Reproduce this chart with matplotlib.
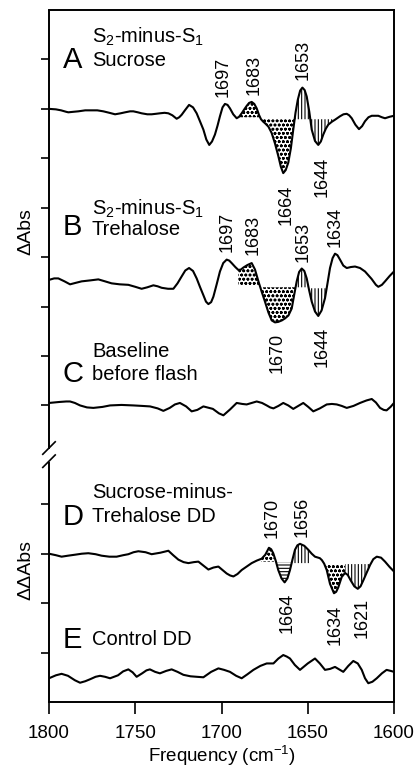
import numpy as np
import matplotlib
matplotlib.use('Agg')
import matplotlib.pyplot as plt

plt.rcParams['font.family'] = ['Liberation Sans', 'DejaVu Sans']
plt.rcParams['mathtext.fontset'] = 'custom'
plt.rcParams['mathtext.rm'] = 'Liberation Sans'
plt.rcParams['mathtext.it'] = 'Liberation Sans:italic'
plt.rcParams['hatch.linewidth'] = 0.8

# spectra (1 unit = one y tick step)
freq_a = [1800.0, 1796.0, 1793.0, 1790.0, 1788.8, 1786.0, 1783.0, 1779.0, 1775.3, 1772.0,
          1768.5, 1765.0, 1761.7, 1758.5, 1755.9, 1753.0, 1751.1, 1748.5, 1746.3, 1743.0,
          1740.5, 1738.0, 1735.7, 1733.0, 1730.8, 1728.5, 1726.0, 1724.5, 1723.1, 1721.0,
          1718.8, 1716.5, 1714.4, 1712.5, 1710.5, 1708.8, 1707.1, 1705.5, 1703.8, 1702.3,
          1700.9, 1699.4, 1698.0, 1696.5, 1695.1, 1693.2, 1691.2, 1689.8, 1688.3, 1686.8,
          1685.4, 1684.0, 1682.5, 1681.0, 1679.6, 1678.3, 1677.1, 1675.8, 1674.8, 1672.8,
          1670.9, 1669.0, 1667.1, 1665.6, 1664.2, 1662.8, 1661.3, 1659.8, 1658.4, 1657.1,
          1655.8, 1654.4, 1653.1, 1651.8, 1650.6, 1649.1, 1647.7, 1645.8, 1643.9, 1642.4,
          1641.0, 1639.5, 1638.1, 1636.0, 1634.2, 1631.3, 1629.3, 1627.4, 1626.0, 1624.5,
          1622.4, 1620.3, 1618.5, 1616.8, 1614.8, 1612.9, 1609.1, 1607.0, 1605.2, 1602.5,
          1600.0]
dabs_a = [0.00, -0.01, -0.03, -0.06, -0.07, -0.06, -0.05, -0.03, -0.03, -0.03,
          -0.05, -0.08, -0.11, -0.09, -0.07, -0.05, -0.05, -0.07, -0.09, -0.11,
          -0.11, -0.10, -0.09, -0.08, -0.09, -0.13, -0.20, -0.17, -0.12, -0.02,
          0.08, 0.03, -0.09, -0.25, -0.42, -0.62, -0.73, -0.66, -0.52, -0.34,
          -0.15, 0.03, 0.10, 0.08, 0.01, -0.11, -0.19, -0.16, -0.09, -0.01,
          0.06, 0.12, 0.14, 0.10, 0.01, -0.12, -0.21, -0.26, -0.29, -0.36,
          -0.49, -0.70, -0.95, -1.17, -1.30, -1.24, -1.09, -0.80, -0.42, -0.08,
          0.18, 0.37, 0.43, 0.38, 0.25, -0.06, -0.42, -0.65, -0.73, -0.66,
          -0.52, -0.40, -0.32, -0.26, -0.22, -0.15, -0.11, -0.10, -0.13, -0.19,
          -0.32, -0.41, -0.35, -0.25, -0.17, -0.14, -0.14, -0.17, -0.19, -0.16,
          -0.14]

freq_b = [1800.0, 1797.0, 1794.6, 1791.0, 1787.8, 1784.5, 1781.1, 1776.0, 1771.4, 1767.5,
          1763.7, 1759.0, 1754.0, 1750.0, 1746.3, 1743.0, 1739.5, 1737.0, 1734.7, 1731.0,
          1727.9, 1725.5, 1723.1, 1721.0, 1718.8, 1716.5, 1714.4, 1712.5, 1710.5, 1709.0,
          1707.6, 1706.0, 1704.7, 1702.8, 1700.9, 1699.0, 1697.0, 1695.5, 1694.1, 1692.0,
          1690.2, 1688.7, 1687.3, 1685.0, 1682.5, 1680.6, 1678.6, 1676.7, 1674.8, 1672.8,
          1670.9, 1669.0, 1667.1, 1665.0, 1663.2, 1661.2, 1659.3, 1657.8, 1656.4, 1655.0,
          1653.5, 1652.0, 1650.6, 1649.2, 1647.7, 1645.8, 1643.9, 1642.0, 1640.0, 1638.5,
          1637.1, 1635.6, 1634.2, 1632.8, 1631.3, 1629.4, 1627.4, 1625.0, 1622.6, 1619.7,
          1616.8, 1613.0, 1610.5, 1609.1, 1607.0, 1605.2, 1602.5, 1600.0]
dabs_b = [0.04, 0.07, 0.07, 0.01, -0.05, -0.02, 0.01, 0.03, 0.05, 0.01,
          -0.03, -0.05, -0.06, -0.10, -0.14, -0.11, -0.07, -0.09, -0.12, -0.14,
          -0.14, -0.03, 0.11, 0.23, 0.28, 0.22, 0.07, -0.10, -0.27, -0.40,
          -0.45, -0.41, -0.30, -0.05, 0.21, 0.38, 0.45, 0.43, 0.38, 0.30,
          0.24, 0.25, 0.29, 0.34, 0.38, 0.25, 0.01, -0.20, -0.40, -0.62,
          -0.78, -0.82, -0.81, -0.78, -0.74, -0.68, -0.54, -0.25, 0.01, 0.20,
          0.27, 0.22, 0.07, -0.17, -0.40, -0.60, -0.69, -0.58, -0.33, -0.02,
          0.28, 0.48, 0.57, 0.54, 0.45, 0.33, 0.28, 0.30, 0.31, 0.28,
          0.21, 0.06, -0.06, -0.10, -0.06, 0.01, 0.12, 0.21]

freq_c = [1800.0, 1794.0, 1790.0, 1787.8, 1785.0, 1782.0, 1778.0, 1774.3, 1769.0, 1764.6,
          1758.0, 1751.1, 1746.0, 1741.4, 1737.0, 1733.7, 1730.0, 1727.0, 1724.1, 1720.5,
          1717.3, 1714.0, 1710.5, 1705.0, 1701.5, 1698.9, 1695.0, 1691.2, 1688.0, 1685.4,
          1682.5, 1679.6, 1676.5, 1673.8, 1671.8, 1669.9, 1667.0, 1664.2, 1661.3, 1658.4,
          1655.5, 1652.6, 1649.7, 1646.8, 1643.0, 1639.0, 1636.0, 1633.2, 1630.3, 1627.4,
          1623.5, 1619.7, 1616.0, 1612.9, 1610.5, 1608.1, 1606.0, 1604.3, 1602.0, 1600.0]
dabs_c = [0.00, 0.02, 0.03, 0.03, 0.00, -0.05, -0.09, -0.10, -0.08, -0.05,
          -0.04, -0.05, -0.06, -0.07, -0.11, -0.16, -0.10, -0.03, 0.00, -0.07,
          -0.17, -0.14, -0.07, -0.12, -0.21, -0.25, -0.13, 0.00, -0.02, -0.03,
          0.00, 0.03, 0.00, -0.05, -0.09, -0.11, -0.06, 0.00, -0.05, -0.12,
          -0.06, 0.00, -0.08, -0.17, -0.11, -0.03, -0.02, -0.03, -0.06, -0.10,
          -0.06, 0.00, 0.05, 0.08, 0.01, -0.10, -0.14, -0.15, -0.08, 0.00]

freq_d = [1800.0, 1796.0, 1792.7, 1789.0, 1784.9, 1781.0, 1777.2, 1773.0, 1769.5, 1765.0,
          1760.8, 1757.0, 1754.0, 1751.0, 1748.2, 1744.0, 1740.5, 1735.5, 1730.8, 1728.0,
          1725.0, 1722.0, 1719.2, 1716.0, 1713.4, 1710.5, 1707.6, 1704.7, 1701.8, 1699.4,
          1697.0, 1695.0, 1693.1, 1690.7, 1688.3, 1685.4, 1682.5, 1679.6, 1676.7, 1674.6,
          1672.5, 1671.2, 1670.0, 1668.5, 1667.1, 1665.2, 1663.4, 1661.8, 1660.3, 1658.8,
          1657.4, 1656.0, 1654.5, 1652.0, 1649.7, 1647.7, 1645.8, 1643.0, 1641.8, 1640.5,
          1639.0, 1637.1, 1634.8, 1633.5, 1632.3, 1630.3, 1628.4, 1626.8, 1625.1, 1623.0,
          1621.0, 1619.4, 1617.8, 1615.8, 1613.9, 1612.0, 1610.0, 1607.5, 1605.2, 1602.5,
          1600.0]
dabs_d = [0.00, -0.03, -0.06, -0.04, -0.02, 0.00, 0.01, -0.01, -0.04, -0.06,
          -0.06, -0.03, -0.01, 0.03, 0.05, 0.03, -0.01, 0.02, 0.06, -0.03,
          -0.12, -0.17, -0.19, -0.17, -0.16, -0.24, -0.32, -0.28, -0.26, -0.33,
          -0.40, -0.44, -0.46, -0.41, -0.33, -0.26, -0.19, -0.14, -0.10, -0.02,
          0.12, 0.09, 0.01, -0.15, -0.33, -0.50, -0.58, -0.50, -0.33, -0.11,
          0.08, 0.17, 0.20, 0.16, 0.08, 0.00, -0.06, -0.09, -0.13, -0.20,
          -0.33, -0.61, -0.80, -0.77, -0.68, -0.47, -0.39, -0.43, -0.54, -0.66,
          -0.71, -0.66, -0.54, -0.38, -0.23, -0.11, -0.06, -0.08, -0.16, -0.27,
          -0.36]

freq_e = [1800.0, 1796.0, 1792.7, 1789.0, 1785.0, 1782.0, 1779.0, 1776.2, 1773.0, 1770.4,
          1767.5, 1764.6, 1760.0, 1757.0, 1754.0, 1751.5, 1749.2, 1746.0, 1743.5, 1741.5,
          1738.5, 1735.7, 1732.0, 1728.9, 1725.5, 1722.1, 1718.0, 1714.4, 1710.5, 1706.0,
          1701.8, 1698.5, 1695.1, 1691.5, 1688.3, 1685.0, 1681.5, 1677.5, 1673.8, 1669.9,
          1667.0, 1664.2, 1662.2, 1660.3, 1657.5, 1654.5, 1650.0, 1645.8, 1643.0, 1640.0,
          1637.0, 1634.2, 1631.8, 1629.4, 1626.5, 1623.6, 1621.0, 1618.7, 1616.8, 1614.9,
          1612.5, 1610.0, 1607.0, 1604.3, 1602.0, 1600.0]
dabs_e = [0.00, 0.06, 0.09, 0.05, -0.04, -0.09, -0.06, -0.02, 0.03, 0.05,
          0.03, 0.00, 0.06, 0.14, 0.18, 0.12, 0.03, 0.10, 0.16, 0.18,
          0.13, 0.10, 0.15, 0.18, 0.13, 0.07, 0.04, 0.03, 0.02, 0.13,
          0.20, 0.17, 0.13, 0.05, 0.00, 0.08, 0.17, 0.25, 0.30, 0.30,
          0.40, 0.47, 0.44, 0.40, 0.27, 0.17, 0.30, 0.40, 0.30, 0.17,
          0.19, 0.23, 0.18, 0.13, 0.25, 0.35, 0.30, 0.17, 0.00, -0.10,
          -0.07, 0.00, 0.10, 0.17, 0.15, 0.13]

traces = {'A': (freq_a, dabs_a), 'B': (freq_b, dabs_b), 'C': (freq_c, dabs_c),
          'D': (freq_d, dabs_d), 'E': (freq_e, dabs_e)}
offsets = {'A': 12.0, 'B': 8.5, 'C': 6.05, 'D': 3.0, 'E': 0.48}

# shaded bands: trace, low freq, high freq, reference level, hatch
fills = [
    ('A', 1677.6, 1690.5, -0.17, 'oooo'),
    ('A', 1657.5, 1677.1, -0.21, 'oooo'),
    ('A', 1648.6, 1657.5, -0.21, '|||||'),
    ('A', 1635.5, 1648.6, -0.21, '|||||'),
    ('B', 1677.9, 1690.2, -0.07, 'oooo'),
    ('B', 1656.9, 1676.6, -0.11, 'oooo'),
    ('B', 1649.5, 1656.9, -0.11, '|||||'),
    ('B', 1639.1, 1649.3, -0.13, '|||||'),
    ('D', 1669.5, 1677.0, -0.16, 'oooo'),
    ('D', 1659.1, 1668.8, -0.17, '-----'),
    ('D', 1648.5, 1659.1, -0.19, '|||||'),
    ('D', 1628.4, 1640.4, -0.21, 'oooo'),
    ('D', 1613.8, 1628.4, -0.21, '|||||'),
]

peak_labels = [
    ('1697', 1699.1, 12.25, 'bottom'), ('1683', 1681.2, 12.29, 'bottom'),
    ('1653', 1652.8, 12.59, 'bottom'), ('1664', 1662.6, 10.47, 'top'),
    ('1644', 1641.7, 11.03, 'top'),
    ('1697', 1696.8, 9.11, 'bottom'), ('1683', 1681.7, 9.05, 'bottom'),
    ('1653', 1652.8, 8.91, 'bottom'), ('1634', 1634.2, 9.21, 'bottom'),
    ('1670', 1667.8, 7.47, 'top'), ('1644', 1641.7, 7.59, 'top'),
    ('1670', 1670.7, 3.32, 'bottom'), ('1656', 1653.3, 3.34, 'bottom'),
    ('1664', 1662.0, 2.21, 'top'), ('1634', 1634.2, 1.96, 'top'),
    ('1621', 1618.6, 2.11, 'top'),
]

panel_letters = [('A', 12.83), ('B', 9.45), ('C', 6.48), ('D', 3.58), ('E', 1.09)]
panel_text = [('S$_2$-minus-S$_1$', 13.34), ('Sucrose', 12.87),
              ('S$_2$-minus-S$_1$', 9.86), ('Trehalose', 9.45),
              ('Baseline', 6.98), ('before flash', 6.52),
              ('Sucrose-minus-', 4.13), ('Trehalose DD', 3.64),
              ('Control DD', 1.15)]

fig = plt.figure(figsize=(4.2, 7.69), dpi=100)
ax = fig.add_axes([49 / 420, 67 / 769, 345 / 420, 692 / 769])

for key, (f, d) in traces.items():
    ax.plot(f, np.asarray(d) + offsets[key], color='black', lw=1.5,
            solid_joinstyle='round')

for key, lo, hi, level, hatch in fills:
    f, d = traces[key]
    f = np.asarray(f)[::-1]
    d = np.asarray(d)[::-1]
    xs = np.linspace(lo, hi, 80)
    ys = np.interp(xs, f, d) + offsets[key]
    ax.fill_between(xs, ys, level + offsets[key], facecolor='none',
                    edgecolor='black', linewidth=0, hatch=hatch)

for txt, x, y, va in peak_labels:
    ax.text(x, y, txt, rotation=90, ha='center', va=va, fontsize=13)

for txt, y in panel_letters:
    ax.text(1791.9, y, txt, fontsize=21, va='baseline', ha='left')
for txt, y in panel_text:
    ax.text(1775.1, y, txt, fontsize=14.5, va='baseline', ha='left')

ax.set_xlim(1800, 1600)
ax.set_ylim(0, 14)
ax.set_xticks([1800, 1750, 1700, 1650, 1600])
ax.set_yticks([1, 2, 3, 4, 6, 7, 8, 9, 10, 11, 12, 13])
ax.set_yticklabels([])
ax.tick_params(axis='x', direction='out', length=8.5, width=1.2, labelsize=13.5, pad=8)
ax.tick_params(axis='y', direction='out', length=5.5, width=1.2)
for s in ['top', 'right', 'bottom']:
    ax.spines[s].set_linewidth(1.4)
ax.spines['left'].set_visible(False)

# broken left axis
ax.plot([0, 0], [0, 0.347], transform=ax.transAxes, color='black', lw=1.4,
        clip_on=False, solid_capstyle='butt')
ax.plot([0, 0], [0.365, 1], transform=ax.transAxes, color='black', lw=1.4,
        clip_on=False, solid_capstyle='butt')
for yc in [0.367, 0.348]:
    ax.plot([-0.018, 0.018], [yc - 0.009, yc + 0.009], transform=ax.transAxes,
            color='black', lw=1.2, clip_on=False)

ax.set_xlabel('Frequency (cm$^{-1}$)', fontsize=13.5, labelpad=1.5)
fig.text(26 / 420, 1 - 232 / 769, '\u0394Abs', rotation=90, ha='center',
         va='center', fontsize=14)
fig.text(26 / 420, 1 - 570 / 769, '\u0394\u0394Abs', rotation=90, ha='center',
         va='center', fontsize=14)

fig.savefig('out.png', dpi=100)
